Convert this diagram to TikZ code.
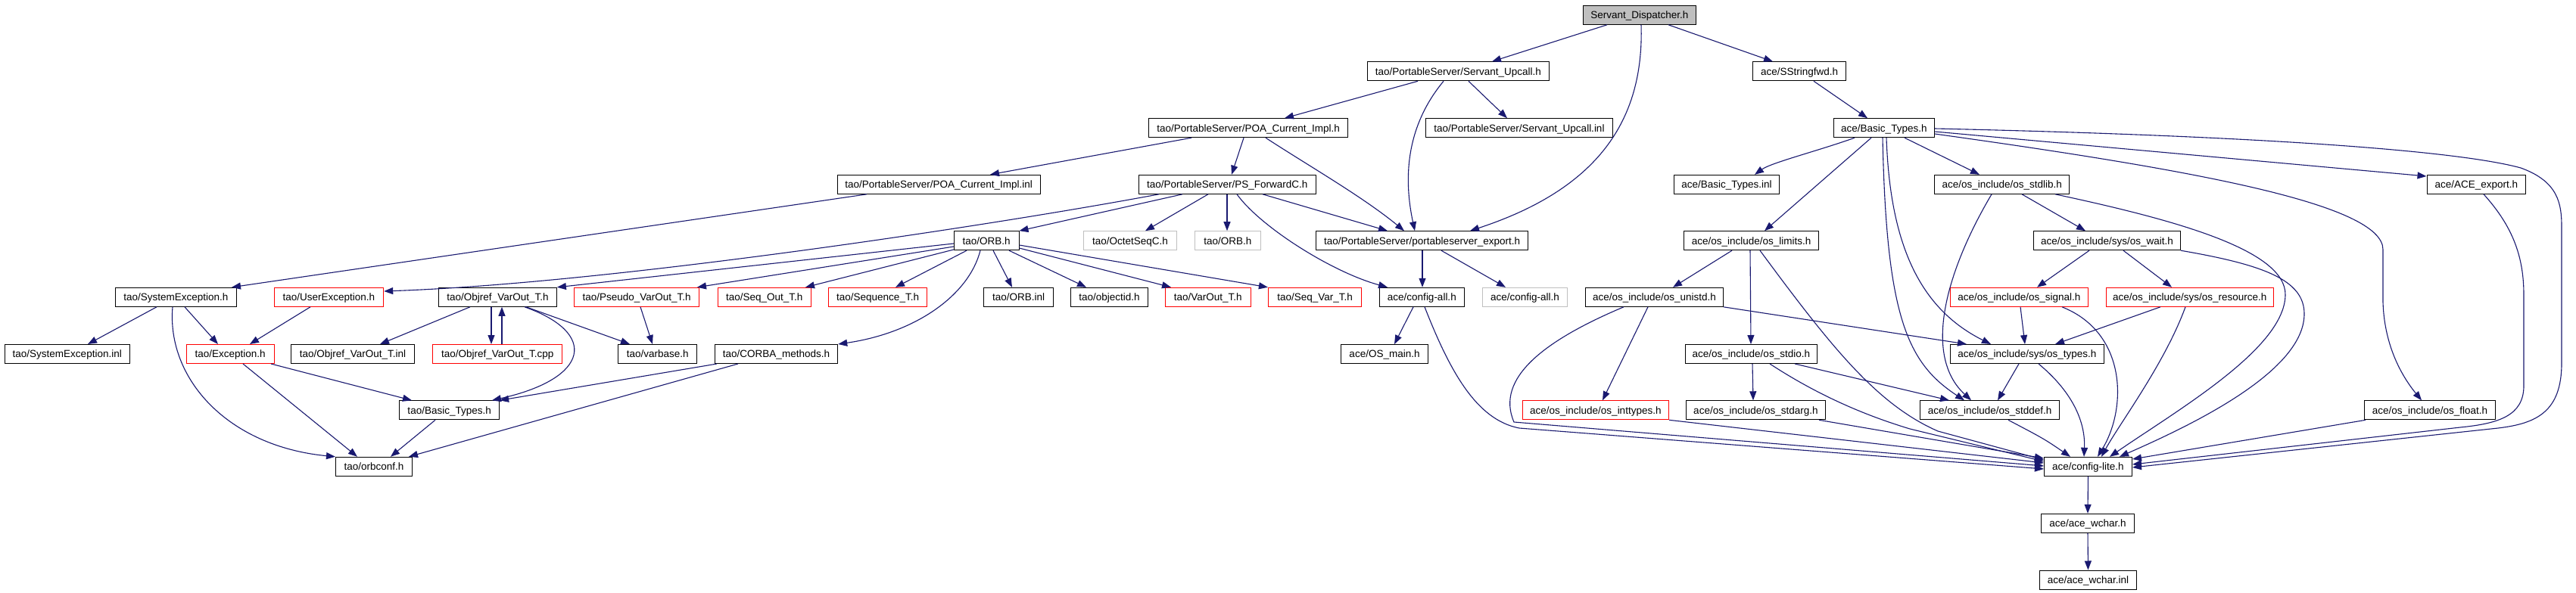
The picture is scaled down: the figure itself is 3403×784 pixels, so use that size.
\documentclass[tikz,border=0pt]{standalone}
\usepackage{fontspec}
\setmainfont{Liberation Sans}
\usetikzlibrary{arrows.meta}
\definecolor{edgeblue}{HTML}{191970}
\definecolor{grayfill}{HTML}{BFBFBF}
\tikzset{
  box/.style={draw=black, line width=1pt, inner sep=0pt, minimum height=25pt, text height=9.7pt, text depth=0pt, font=\fontsize{13.5}{16}\selectfont},
  redbox/.style={box, draw=red},
  greybox/.style={box, draw=grayfill},
  rootbox/.style={box, fill=grayfill},
  dep/.style={draw=edgeblue, line width=1.1pt, -{Triangle[length=12pt,width=9pt]}},
}
\newcommand{\mkbox}[6]{\node[#1, minimum width={#4-#3}] (#2) at ({(#3+#4)/2},#5) {#6};}
\begin{document}
\begin{tikzpicture}[x=1pt,y=-1pt]
\fill[white] (0,0) rectangle (3403,784);
\useasboundingbox (0,0) rectangle (3403,784);
% row 0-4
\mkbox{rootbox}{SD}{2091.1}{2240.6}{19.8}{Servant\_Dispatcher.h}
\mkbox{box}{SU}{1806.3}{2046.4}{94.3}{tao/PortableServer/Servant\_Upcall.h}
\mkbox{box}{SSF}{2315.6}{2438.4}{94.3}{ace/SStringfwd.h}
\mkbox{box}{PCI}{1517.9}{1780.4}{169.2}{tao/PortableServer/POA\_Current\_Impl.h}
\mkbox{box}{SUI}{1883.5}{2130.4}{169.2}{tao/PortableServer/Servant\_Upcall.inl}
\mkbox{box}{ABT}{2422.3}{2555.4}{169.2}{ace/Basic\_Types.h}
\mkbox{box}{PCII}{1106.3}{1374.1}{243.8}{tao/PortableServer/POA\_Current\_Impl.inl}
\mkbox{box}{PSF}{1504}{1738.4}{243.8}{tao/PortableServer/PS\_ForwardC.h}
\mkbox{box}{BTI}{2211.6}{2350.4}{243.8}{ace/Basic\_Types.inl}
\mkbox{box}{STDLIB}{2555.4}{2733.9}{243.8}{ace/os\_include/os\_stdlib.h}
\mkbox{box}{ACEEXP}{3206}{3336.7}{243.8}{ace/ACE\_export.h}
\mkbox{box}{ORB}{1260.3}{1346}{318.2}{tao/ORB.h}
\mkbox{greybox}{OCT}{1431.3}{1554.5}{318.2}{tao/OctetSeqC.h}
\mkbox{greybox}{ORBB}{1578.6}{1665}{318.2}{tao/ORB.h}
\mkbox{box}{PSE}{1738.4}{2018.8}{318.2}{tao/PortableServer/portableserver\_export.h}
\mkbox{box}{LIMITS}{2224.5}{2402.7}{318.2}{ace/os\_include/os\_limits.h}
\mkbox{box}{WAIT}{2686.6}{2880.4}{318.2}{ace/os\_include/sys/os\_wait.h}
% row 5
\mkbox{box}{SYSEXC}{152.3}{312.3}{392.8}{tao/SystemException.h}
\mkbox{redbox}{USEREXC}{362.1}{506.7}{392.8}{tao/UserException.h}
\mkbox{box}{OBJREF}{579.6}{735.4}{392.8}{tao/Objref\_VarOut\_T.h}
\mkbox{redbox}{PSEUDO}{758.6}{923.5}{392.8}{tao/Pseudo\_VarOut\_T.h}
\mkbox{redbox}{SEQOUT}{948}{1071.6}{392.8}{tao/Seq\_Out\_T.h}
\mkbox{redbox}{SEQT}{1094.6}{1224.6}{392.8}{tao/Sequence\_T.h}
\mkbox{box}{ORBINL}{1299.6}{1391.5}{392.8}{tao/ORB.inl}
\mkbox{box}{OBJID}{1414.3}{1516.5}{392.8}{tao/objectid.h}
\mkbox{redbox}{VAROUT}{1539.3}{1652.2}{392.8}{tao/VarOut\_T.h}
\mkbox{redbox}{SEQVAR}{1675.4}{1798.7}{392.8}{tao/Seq\_Var\_T.h}
\mkbox{box}{CFGALL}{1822.3}{1934.4}{392.8}{ace/config-all.h}
\mkbox{greybox}{CFGALLB}{1958.5}{2070.5}{392.8}{ace/config-all.h}
\mkbox{box}{UNISTD}{2094.6}{2276.3}{392.8}{ace/os\_include/os\_unistd.h}
\mkbox{redbox}{SIGNAL}{2576.3}{2758.5}{392.8}{ace/os\_include/os\_signal.h}
\mkbox{redbox}{RESOURCE}{2782.6}{3003}{392.8}{ace/os\_include/sys/os\_resource.h}
% row 6
\mkbox{box}{SYSINL}{6.3}{171.2}{468}{tao/SystemException.inl}
\mkbox{redbox}{EXC}{246.3}{362.1}{468}{tao/Exception.h}
\mkbox{box}{OBJINL}{384.6}{547.4}{468}{tao/Objref\_VarOut\_T.inl}
\mkbox{redbox}{OBJCPP}{571.9}{742.5}{468}{tao/Objref\_VarOut\_T.cpp}
\mkbox{box}{VARBASE}{816.8}{920.7}{468}{tao/varbase.h}
\mkbox{box}{CORBA}{944.3}{1106.7}{468}{tao/CORBA\_methods.h}
\mkbox{box}{OSMAIN}{1771.4}{1886.6}{468}{ace/OS\_main.h}
\mkbox{box}{STDIO}{2226.3}{2400.4}{468}{ace/os\_include/os\_stdio.h}
\mkbox{box}{TYPES}{2576.3}{2779.5}{468}{ace/os\_include/sys/os\_types.h}
% row 7
\mkbox{box}{TBT}{527.7}{659.6}{542.3}{tao/Basic\_Types.h}
\mkbox{redbox}{INTTYPES}{2011.2}{2204.5}{542.3}{ace/os\_include/os\_inttypes.h}
\mkbox{box}{STDARG}{2227.2}{2411.6}{542.3}{ace/os\_include/os\_stdarg.h}
\mkbox{box}{STDDEF}{2536.6}{2720.5}{542.3}{ace/os\_include/os\_stddef.h}
\mkbox{box}{FLOAT}{3123.3}{3296.7}{542.3}{ace/os\_include/os\_float.h}
% rows 8-10
\mkbox{box}{ORBCONF}{443.5}{544.6}{616.8}{tao/orbconf.h}
\mkbox{box}{CL}{2700.4}{2816.5}{616.8}{ace/config-lite.h}
\mkbox{box}{WCHAR}{2696.4}{2819.6}{691.8}{ace/ace\_wchar.h}
\mkbox{box}{WCHARINL}{2694.6}{2822.3}{766.5}{ace/ace\_wchar.inl}

% edges: top part
\draw[dep] (SD.south -| 2123,0) -- (SU.north -| 1971,0);
\draw[dep] (SD.south -| 2204,0) -- (SSF.north -| 2342,0);
\draw[dep] (SD.south -| 2168,0) .. controls (2172,160) and (2110,250) .. (PSE.north -| 1942,0);
\draw[dep] (SU.south -| 1873,0) -- (PCI.north -| 1697,0);
\draw[dep] (SU.south -| 1940,0) -- (SUI.north -| 1991,0);
\draw[dep] (SU.south -| 1907,0) .. controls (1855,170) and (1855,240) .. (PSE.north -| 1869,0);
\draw[dep] (PCI.south -| 1574,0) -- (PCII.north -| 1308,0);
\draw[dep] (PCI.south -| 1643,0) -- (PSF.north -| 1627,0);
\draw[dep] (PCI.south -| 1672,0) .. controls (1730,220) and (1800,260) .. (PSE.north -| 1855,0);
\draw[dep] (PCII.south -| 1145,0) -- (SYSEXC.north -| 306,0);
\draw[dep] (PSF.south -| 1562,0) -- (ORB.north east);
\draw[dep] (PSF.south -| 1596,0) -- (OCT.north -| 1513,0);
\draw[dep] (PSF.south -| 1621,0) -- (ORBB.north -| 1621,0);
\draw[dep] (PSF.south -| 1668,0) -- (PSE.north -| 1833,0);
\draw[dep] (PSF.south -| 1634,0) .. controls (1665,300) and (1760,360) .. (CFGALL.north -| 1833,0);
\draw[dep] (PSF.south -| 1531,0) .. controls (1300,300) and (800,375) .. (USEREXC.east |- 0,385);
% ORB.h
\draw[dep] (ORB.west |- 0,322) -- (OBJREF.north east);
\draw[dep] (ORB.west |- 0,326) -- (PSEUDO.north -| 921,0);
\draw[dep] (ORB.west |- 0,330) -- (SEQOUT.north -| 1064,0);
\draw[dep] (ORB.south -| 1277,0) -- (SEQT.north -| 1183,0);
\draw[dep] (ORB.south -| 1312,0) -- (ORBINL.north -| 1337,0);
\draw[dep] (ORB.south -| 1333,0) -- (OBJID.north -| 1435,0);
\draw[dep] (ORB.east |- 0,328) -- (VAROUT.north -| 1547,0);
\draw[dep] (ORB.east |- 0,324) -- (SEQVAR.north west);
\draw[dep] (ORB.south -| 1295,0) .. controls (1280,390) and (1210,440) .. (CORBA.north east);
% tao lower part
\draw[dep] (SYSEXC.south -| 207,0) -- (SYSINL.north -| 116,0);
\draw[dep] (SYSEXC.south -| 244,0) -- (EXC.north -| 288,0);
\draw[dep] (SYSEXC.south -| 228,0) .. controls (220,500) and (300,590) .. (ORBCONF.north west);
\draw[dep] (USEREXC.south -| 410,0) -- (EXC.north -| 330,0);
\draw[dep] (EXC.south -| 358,0) -- (TBT.north -| 544,0);
\draw[dep] (EXC.south -| 321,0) -- (ORBCONF.north -| 472,0);
\draw[dep] (OBJREF.south -| 621,0) -- (OBJINL.north -| 502,0);
\draw[dep] (OBJREF.south -| 649,0) -- (OBJCPP.north -| 649,0);
\draw[dep] (OBJCPP.north -| 663,0) -- (OBJREF.south -| 663,0);
\draw[dep] (OBJREF.south -| 693,0) .. controls (790,440) and (780,500) .. (TBT.north -| 650,0);
\draw[dep] (OBJREF.south -| 695,0) -- (VARBASE.north -| 832,0);
\draw[dep] (PSEUDO.south -| 846,0) -- (VARBASE.north -| 862,0);
\draw[dep] (CORBA.south -| 947,0) -- (TBT.north east);
\draw[dep] (CORBA.south -| 975,0) -- (ORBCONF.north -| 540,0);
\draw[dep] (TBT.south -| 575,0) -- (ORBCONF.north -| 516,0);
% ace part
\draw[dep] (PSE.south -| 1879,0) -- (CFGALL.north -| 1879,0);
\draw[dep] (PSE.south -| 1904,0) -- (CFGALLB.north -| 1989,0);
\draw[dep] (CFGALL.south -| 1867,0) -- (OSMAIN.north -| 1842,0);
\draw[dep] (CFGALL.south -| 1882,0) .. controls (1915,490) and (1950,555) .. (2007,566) -- (CL.west |- 0,620);
\draw[dep] (UNISTD.south -| 2145,0) .. controls (2040,450) and (1975,500) .. (2000,558) -- (CL.west |- 0,616);
\draw[dep] (UNISTD.south -| 2177,0) -- (INTTYPES.north -| 2117,0);
\draw[dep] (UNISTD.south east) -- (TYPES.north -| 2598,0);
\draw[dep] (INTTYPES.south east) -- (CL.west |- 0,612);
\draw[dep] (LIMITS.south -| 2288,0) -- (UNISTD.north -| 2210,0);
\draw[dep] (LIMITS.south -| 2312,0) -- (STDIO.north -| 2313,0);
\draw[dep] (LIMITS.south -| 2325,0) .. controls (2420,460) and (2480,535) .. (2560,570) -- (CL.west |- 0,608);
\draw[dep] (STDIO.south -| 2315,0) -- (STDARG.north -| 2316,0);
\draw[dep] (STDIO.south -| 2371,0) -- (STDDEF.north -| 2575,0);
\draw[dep] (STDIO.south -| 2338,0) .. controls (2390,515) and (2450,545) .. (2523,567) -- (CL.west |- 0,610);
\draw[dep] (STDARG.south -| 2403,0) -- (CL.west |- 0,606);
\draw[dep] (SSF.south -| 2396,0) -- (ABT.north -| 2467,0);
\draw[dep] (ABT.south -| 2450,0) .. controls (2400,200) and (2340,215) .. (BTI.north -| 2318,0);
\draw[dep] (ABT.south -| 2472,0) -- (LIMITS.north -| 2331,0);
\draw[dep] (ABT.south -| 2516,0) -- (STDLIB.north -| 2615,0);
\draw[dep] (ABT.south -| 2487,0) .. controls (2492,420) and (2520,480) .. (STDDEF.north -| 2595,0);
\draw[dep] (ABT.south -| 2492,0) .. controls (2497,330) and (2540,410) .. (TYPES.north -| 2630,0);
\draw[dep] (STDLIB.south -| 2631,0) .. controls (2570,360) and (2540,470) .. (STDDEF.north -| 2604,0);
\draw[dep] (STDLIB.south -| 2671,0) -- (WAIT.north -| 2755,0);
\draw[dep] (STDLIB.south -| 2715,0) .. controls (2870,290) and (3020,330) .. (3019,390) .. controls (3018,460) and (2880,540) .. (CL.north -| 2787,0);
\draw[dep] (WAIT.south east) .. controls (2990,350) and (3044,370) .. (3044,415) .. controls (3044,490) and (2900,560) .. (CL.north -| 2800,0);
\draw[dep] (WAIT.south -| 2760,0) -- (SIGNAL.north -| 2691,0);
\draw[dep] (WAIT.south -| 2805,0) -- (RESOURCE.north -| 2869,0);
\draw[dep] (SIGNAL.south -| 2669,0) -- (TYPES.north -| 2675,0);
\draw[dep] (SIGNAL.south -| 2724,0) .. controls (2810,440) and (2810,540) .. (CL.north -| 2771,0);
\draw[dep] (RESOURCE.south -| 2854,0) -- (TYPES.north -| 2715,0);
\draw[dep] (RESOURCE.south -| 2887,0) .. controls (2860,480) and (2800,560) .. (CL.north -| 2776,0);
\draw[dep] (TYPES.south -| 2667,0) -- (STDDEF.north -| 2639,0);
\draw[dep] (TYPES.south -| 2693,0) .. controls (2740,520) and (2755,560) .. (CL.north -| 2753,0);
\draw[dep] (STDDEF.south -| 2653,0) .. controls (2700,580) .. (CL.north -| 2735,0);
\draw[dep] (ABT.east |- 0,174) -- (ACEEXP.west |- 0,233);
\draw[dep] (ABT.east |- 0,170) .. controls (3000,180) and (3250,200) .. (3330,222) .. controls (3380,240) and (3384,270) .. (3384,300) -- (3384,480) .. controls (3384,545) and (3350,560) .. (3300,566) -- (CL.east |- 0,618);
\draw[dep] (ACEEXP.south -| 3281,0) .. controls (3320,300) and (3334,340) .. (3334,390) -- (3334,510) .. controls (3334,550) and (3300,560) .. (3250,565) -- (CL.east |- 0,614);
\draw[dep] (ABT.east |- 0,177) .. controls (2900,225) and (3148,270) .. (3148,330) -- (3148,400) .. controls (3150,460) and (3175,500) .. (FLOAT.north -| 3199,0);
\draw[dep] (FLOAT.south -| 3125,0) -- (CL.east |- 0,607);
\draw[dep] (CL.south) -- (WCHAR.north);
\draw[dep] (WCHAR.south) -- (WCHARINL.north);
\end{tikzpicture}
\end{document}
